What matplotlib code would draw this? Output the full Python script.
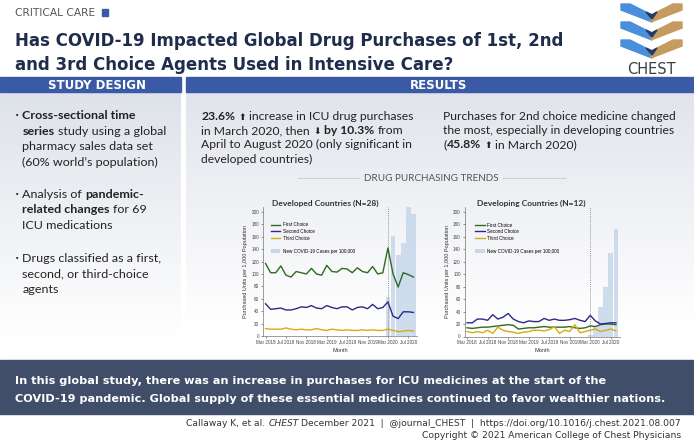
import matplotlib
matplotlib.use('Agg')
import matplotlib.pyplot as plt
import numpy as np
from matplotlib.patches import Rectangle, Polygon, Patch
from matplotlib.lines import Line2D

# ---------------- data ----------------
tick_labels = ['Mar 2018', 'Jul 2018', 'Nov 2018', 'Mar 2019', 'Jul 2019',
               'Nov 2019', 'Mar 2020', 'Jul 2020']

dev_first = [117, 102, 102, 113, 98, 95, 104, 102, 100, 109, 100, 98, 114, 104, 103,
             109, 108, 102, 110, 104, 102, 112, 100, 102, 142, 100, 79, 102, 99, 95]
dev_second = [52, 43, 44, 45, 42, 42, 44, 47, 46, 49, 45, 44, 49, 46, 44,
              47, 47, 42, 46, 47, 44, 51, 44, 46, 55, 32, 28, 39, 39, 38]
dev_third = [12, 11, 11, 11, 13, 11, 10, 11, 10, 10, 12, 10, 9, 11, 10,
             9, 10, 9, 9, 10, 9, 10, 9, 9, 11, 9, 7, 8, 9, 8]
dev_cases = [63, 162, 130, 150, 208, 196]          # Mar-Aug 2020

dvg_first = [14, 13, 14, 15, 15, 16, 17, 18, 19, 18, 12, 13, 14, 14, 15,
             16, 15, 15, 15, 15, 16, 14, 13, 14, 17, 16, 19, 20, 20, 19]
dvg_second = [22, 22, 28, 28, 26, 35, 28, 31, 37, 28, 24, 22, 25, 24, 24,
              29, 26, 28, 26, 26, 27, 29, 26, 24, 34, 25, 20, 21, 22, 22]
dvg_third = [8, 6, 8, 6, 10, 5, 15, 10, 8, 7, 5, 7, 8, 10, 10,
             9, 11, 16, 5, 10, 8, 19, 6, 8, 10, 12, 8, 10, 12, 9]
dvg_cases = [2, 15, 48, 80, 134, 172]              # Mar-Aug 2020

series_names = ['First Choice', 'Second Choice', 'Third Choice']
cases_name = 'New COVID-19 Cases per 100,000'

# ---------------- figure ----------------
W, H = 694, 443
fig = plt.figure(figsize=(W / 100, H / 100), dpi=100)
bg = fig.add_axes([0, 0, 1, 1])
bg.set_xlim(0, W)
bg.set_ylim(H, 0)
bg.axis('off')
renderer = fig.canvas.get_renderer()

BODY = ['Lato', 'DejaVu Sans']
CHARTF = ['Liberation Sans Narrow', 'Liberation Sans', 'DejaVu Sans']


def twidth(s, **kw):
    t = bg.text(0, 0, s, **kw)
    w = t.get_window_extent(renderer).width
    t.remove()
    return w


def fit(s, target, **kw):
    return 10 * target / twidth(s, fontsize=10, **kw)


def gradient(x0, x1, y0, y1, top, bottom, stop=1.0):
    n = 200
    t = np.clip(np.linspace(0, 1, n) / stop, 0, 1)[:, None]
    top = np.array(top)
    bottom = np.array(bottom)
    img = top[None, :] * (1 - t) + bottom[None, :] * t
    img = np.repeat(img[:, None, :], 2, axis=1)
    bg.imshow(img, extent=[x0, x1, y1, y0], aspect='auto', zorder=0,
              interpolation='bilinear')


# panels
gradient(0, 181, 92, 352, (0.87, 0.885, 0.915), (1, 1, 1), stop=0.95)
gradient(186, 694, 92, 352, (0.885, 0.895, 0.925), (1, 1, 1), stop=0.9)
bg.set_xlim(0, W)
bg.set_ylim(H, 0)

HEAD = '#3b5aa5'
bg.add_patch(Rectangle((0, 77), 181, 15, color=HEAD, zorder=1))
bg.add_patch(Rectangle((186, 77), 508, 15, color=HEAD, zorder=1))
bg.add_patch(Rectangle((0, 360), 694, 54, color='#404e6a', zorder=1))

# top labels
s = fit('CRITICAL CARE', 80, family='DejaVu Sans')
bg.text(15, 16, 'CRITICAL CARE', fontsize=s, family='DejaVu Sans', color='#555555',
        va='baseline')
bg.add_patch(Rectangle((102, 9), 6, 7, color='#3b5aa5'))

TITLE1 = 'Has COVID-19 Impacted Global Drug Purchases of 1st, 2nd'
TITLE2 = 'and 3rd Choice Agents Used in Intensive Care?'
ts = fit(TITLE1, 551, family='DejaVu Sans', fontweight='bold')
bg.text(15, 46, TITLE1, fontsize=ts, family='DejaVu Sans', fontweight='bold',
        color='#1f2c4c', va='baseline')
bg.text(15, 70, TITLE2, fontsize=ts, family='DejaVu Sans', fontweight='bold',
        color='#1f2c4c', va='baseline')

# logo
BLUE, TAN, NAVY = '#4a8fdc', '#c59b60', '#243a6a'
for k in range(3):
    y = 4 + k * 18
    bg.add_patch(Polygon([(621, y), (630, y), (652, y + 11), (652, y + 18), (621, y + 6)],
                         closed=True, color=BLUE, zorder=2))
    bg.add_patch(Polygon([(682, y), (673, y), (651, y + 11), (651, y + 18), (682, y + 6)],
                         closed=True, color=TAN, zorder=2))
    bg.add_patch(Polygon([(646, y + 8), (652, y + 11), (657, y + 8), (652, y + 15)],
                         closed=True, color=NAVY, zorder=3))
bg.text(651.5, 74, 'CHEST', fontsize=10.5, family='Liberation Sans Narrow',
        color='#3d3d3d', ha='center', va='baseline')

# headers
hs = fit('STUDY DESIGN', 98, family='DejaVu Sans', fontweight='bold')
bg.text(97, 88.5, 'STUDY DESIGN', fontsize=hs, family='DejaVu Sans', fontweight='bold',
        color='white', ha='center', va='baseline')
bg.text(439, 88.5, 'RESULTS', fontsize=hs, family='DejaVu Sans', fontweight='bold',
        color='white', ha='center', va='baseline')


def runs(x, y, parts, size, color='#222222', family=BODY):
    sp = twidth('x x', fontsize=size, family=family) - twidth('xx', fontsize=size, family=family)
    for txt, style in parts:
        kw = dict(fontsize=size, color=color, va='baseline', ha='left', family=family)
        if style == 'b':
            kw['fontweight'] = 'bold'
        elif style == 'a':
            kw['family'] = ['DejaVu Sans']
            kw['fontsize'] = size * 0.75
        lead = len(txt) - len(txt.lstrip(' '))
        trail = len(txt) - len(txt.rstrip(' '))
        x += lead * sp
        core = txt.strip(' ')
        if core:
            t = bg.text(x, y, core, **kw)
            x += t.get_window_extent(renderer).width
        x += trail * sp
    return x


# study design bullets
bs = fit('series study using a global', 142, family=BODY)
design = [
    [[('Cross-sectional time', 'b')], [('series', 'b'), (' study using a global', 'n')],
     [('pharmacy sales data set', 'n')], [('(60% world\u2019s population)', 'n')]],
    [[('Analysis of ', 'n'), ('pandemic-', 'b')], [('related changes', 'b'), (' for 69', 'n')],
     [('ICU medications', 'n')]],
    [[('Drugs classified as a first,', 'n')], [('second, or third-choice', 'n')],
     [('agents', 'n')]],
]
starts = [119, 197.5, 262]
for items, y0 in zip(design, starts):
    bg.text(17, y0 - 3, '\u2022', fontsize=bs * 0.6, color='#222222', ha='center',
            va='center', family='DejaVu Sans')
    for i, line in enumerate(items):
        runs(22.5, y0 + i * 15.6, line, bs)

# results text
rs = fit('Purchases for 2nd choice medicine changed', 233, family=BODY)
left = [
    [('23.6% ', 'b'), ('\u2B06', 'a'), (' increase in ICU drug purchases', 'n')],
    [('in March 2020, then ', 'n'), ('\u2B07', 'a'), (' by 10.3%', 'b'), (' from', 'n')],
    [('April to August 2020 (only significant in', 'n')],
    [('developed countries)', 'n')],
]
right = [
    [('Purchases for 2nd choice medicine changed', 'n')],
    [('the most, especially in developing countries', 'n')],
    [('(', 'n'), ('45.8% ', 'b'), ('\u2B06', 'a'), (' in March 2020)', 'n')],
]
for i, line in enumerate(left):
    runs(201.5, 120 + i * 14.2, line, rs)
for i, line in enumerate(right):
    runs(443.5, 120 + i * 14.2, line, rs)

# drug purchasing trends divider
ds = fit('DRUG PURCHASING TRENDS', 133, family=BODY)
bg.text(431.5, 181, 'DRUG PURCHASING TRENDS', fontsize=ds, family=BODY, color='#555555',
        ha='center', va='baseline')
bg.plot([298, 360], [178, 178], ls=(0, (0.6, 1.2)), color='#9a9a9a', lw=0.8)
bg.plot([503, 566], [178, 178], ls=(0, (0.6, 1.2)), color='#9a9a9a', lw=0.8)

# bottom band
B1 = 'In this global study, there was an increase in purchases for ICU medicines at the start of the'
B2 = 'COVID-19 pandemic. Global supply of these essential medicines continued to favor wealthier nations.'
bsz = fit(B2, 646, family='DejaVu Sans', fontweight='bold')
bg.text(15.5, 384, B1, fontsize=bsz, family='DejaVu Sans', fontweight='bold', color='white',
        va='baseline')
bg.text(15.5, 402, B2, fontsize=bsz, family='DejaVu Sans', fontweight='bold', color='white',
        va='baseline')

# footer
F1a = 'Callaway K, et al.'
F1b = 'CHEST'
F1c = 'December 2021  |  @journal_CHEST  |  https://doi.org/10.1016/j.chest.2021.08.007'
F2 = 'Copyright \u00A9 2021 American College of Chest Physicians'
full = F1a + ' ' + F1b + ' ' + F1c
fsz = fit(full, 491, family='DejaVu Sans')
fsp = twidth('x x', fontsize=fsz, family='DejaVu Sans') - twidth('xx', fontsize=fsz, family='DejaVu Sans')
x0 = 681 - twidth(full, fontsize=fsz, family='DejaVu Sans')
t = bg.text(x0, 426, F1a, fontsize=fsz, family='DejaVu Sans', color='#333333', va='baseline')
xx = x0 + t.get_window_extent(renderer).width + fsp
t = bg.text(xx, 426, F1b, fontsize=fsz, family='DejaVu Sans', style='italic', color='#333333',
            va='baseline')
xx += t.get_window_extent(renderer).width + fsp
bg.text(xx, 426, F1c, fontsize=fsz, family='DejaVu Sans', color='#333333', va='baseline')
bg.text(681, 438, F2, fontsize=fsz, family='DejaVu Sans', color='#333333', va='baseline',
        ha='right')

# ---------------- charts ----------------
GREEN, NAV, GOLD, BAR = '#2e6a22', '#2b2a86', '#d9aa12', '#c6d7ea'


def chart(rect, title, first, second, third, cases, leg_x):
    ax = fig.add_axes(rect)
    ax.set_facecolor('none')
    x = np.arange(len(first))
    cx = x[len(first) - len(cases):]
    ax.bar(cx, cases, width=0.93, color=BAR, alpha=0.85, linewidth=0, zorder=1)
    ax.axvline(24, color='#9a9a9a', ls=(0, (1, 1)), lw=0.7, zorder=2)
    ax.plot(x, first, color=GREEN, lw=1.0, zorder=3)
    ax.plot(x, second, color=NAV, lw=1.0, zorder=3)
    ax.plot(x, third, color=GOLD, lw=1.0, zorder=3)
    ax.set_xlim(-0.5, 29.7)
    ax.set_ylim(0, 208)
    ax.set_yticks(range(0, 201, 20))
    ax.set_xticks(range(0, 30, 4))
    ax.set_xticklabels(tick_labels)
    ax.tick_params(labelsize=3.3, length=1.5, width=0.4, pad=1.2, colors='#444444')
    for lab in ax.get_xticklabels() + ax.get_yticklabels():
        lab.set_family(CHARTF)
    for sname in ['top', 'right']:
        ax.spines[sname].set_visible(False)
    for sname in ['left', 'bottom']:
        ax.spines[sname].set_color('#777777')
        ax.spines[sname].set_linewidth(0.5)
    ax.set_ylabel('Purchased Units per 1,000 Population', fontsize=4.0, color='#333333',
                  labelpad=2.5, family=CHARTF)
    ax.set_xlabel('Month', fontsize=4.0, color='#333333', labelpad=2, family=CHARTF)
    ax.text(leg_x, 1.025, title, transform=ax.transAxes, fontsize=6, fontweight='bold',
            family=BODY, color='#333333', va='center', ha='left')
    handles = [Line2D([], [], color=GREEN, lw=1.0), Line2D([], [], color=NAV, lw=1.0),
               Line2D([], [], color=GOLD, lw=1.0), Line2D([], [], color='none'),
               Patch(facecolor=BAR, edgecolor='none')]
    labels = series_names + [' ', cases_name]
    ax.legend(handles, labels, loc='upper left', bbox_to_anchor=(leg_x - 0.01, 0.88),
              fontsize=3.3, frameon=False, handlelength=2.0, handleheight=0.9,
              handletextpad=0.6, labelspacing=0.35, borderpad=0, borderaxespad=0,
              prop={'family': CHARTF, 'size': 3.3})
    return ax


chart([263 / W, (H - 336) / H, 154 / W, 129 / H], 'Developed Countries (N=28)',
      dev_first, dev_second, dev_third, dev_cases, 0.06)
chart([464.5 / W, (H - 336.5) / H, 155 / W, 129.5 / H], 'Developing Countries (N=12)',
      dvg_first, dvg_second, dvg_third, dvg_cases, 0.08)

fig.savefig('out.png', dpi=100)
